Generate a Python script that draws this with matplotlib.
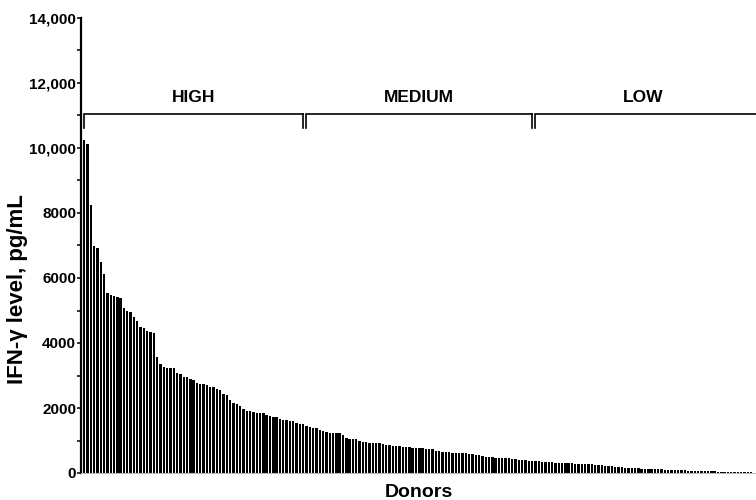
import matplotlib
matplotlib.use("Agg")
import matplotlib.pyplot as plt
import numpy as np

# IFN-gamma level per donor, pg/mL (sorted descending)
ifn_levels = [
    10250, 10120, 8240, 6975, 6930, 6500, 6110, 5550, 5470, 5445, 5425, 5385,
    5090, 4980, 4940, 4800, 4680, 4500, 4475, 4380, 4340, 4310,
    3580, 3355, 3270, 3240, 3220, 3220, 3090, 3040, 2965, 2945, 2905, 2860,
    2780, 2740, 2730, 2720, 2655, 2635, 2575, 2555, 2440, 2400, 2245, 2165,
    2125, 2060, 1960, 1920, 1910, 1890, 1855, 1835, 1835, 1775, 1745, 1735, 1715,
    1662, 1631, 1620, 1610, 1600, 1538, 1518, 1508, 1456, 1405, 1395, 1374,
    1323, 1303, 1272, 1241, 1231, 1220, 1220, 1159, 1067, 1056, 1046, 1046,
    995, 964, 954, 933, 923, 923, 913, 892, 872, 851, 841, 831, 831, 810,
    790, 790, 780, 780, 780, 759, 738, 728, 728, 687, 667, 656, 656, 646,
    626, 615, 615, 605, 605, 585, 574, 564, 544, 533, 503, 492, 482, 472,
    462, 451, 451, 451, 441, 431,
    410, 400, 390, 379, 379, 369, 359, 349, 338, 338, 328, 318, 318, 308,
    308, 297, 297, 287, 287, 277, 277, 267, 267, 256, 256,
    240, 226, 215, 205, 195, 185, 174, 164, 154, 144, 144, 144, 133, 133,
    133, 123, 123, 123, 113, 103, 103, 92, 92, 82, 82, 82, 72, 72, 72, 62,
    62, 62, 51, 51, 51, 41, 41, 41, 31, 31, 31, 31, 21, 21, 21, 21, 10,
]

group_labels = ["HIGH", "MEDIUM", "LOW"]
group_sizes = [67, 69, 66]

y_ticks = [0, 2000, 4000, 6000, 8000, 10000, 12000, 14000]
y_tick_labels = ["0", "2000", "4000", "6000", "8000", "10,000", "12,000", "14,000"]

bracket_level = 11050
bracket_drop = 450
label_level = 11550

plt.rcParams['font.family'] = ['Liberation Sans', 'DejaVu Sans']

fig = plt.figure(figsize=(7.56, 5.0), dpi=100)
ax = fig.add_axes([81 / 756, 27 / 500, 1 - 81 / 756, (473 - 18) / 500])

x = np.arange(len(ifn_levels))
ax.bar(x, ifn_levels, width=0.72, color="#000000", edgecolor="none")

n = len(ifn_levels)
ax.set_xlim(-0.95, n - 0.55)
ax.set_ylim(0, 14000)

ax.set_yticks(y_ticks)
ax.set_yticklabels(y_tick_labels, fontsize=11, fontweight="bold")
ax.set_yticks(np.arange(1000, 14000, 2000), minor=True)
ax.tick_params(axis="y", which="both", direction="out", length=3, width=1.1, pad=0.5)
ax.set_xticks([])

for s in ["top", "right"]:
    ax.spines[s].set_visible(False)
ax.spines["left"].set_linewidth(1.6)
ax.spines["bottom"].set_color("#bbbbbb")
ax.spines["bottom"].set_linewidth(0.8)

ax.set_ylabel("IFN-γ level, pg/mL", fontsize=16, fontweight="bold")
ax.yaxis.set_label_coords((28 - 81) / 675, (473 - 289) / 455)
ax.set_xlabel("Donors", fontsize=14, fontweight="bold", labelpad=8)

# brackets
edges = np.concatenate([[0], np.cumsum(group_sizes)]) - 0.5
gap = 0.42
for i, lab in enumerate(group_labels):
    left = edges[i] + gap if i > 0 else 0.0
    right = edges[i + 1] - gap if i < len(group_labels) - 1 else n + 5
    ax.plot([left, left, right], [bracket_level - bracket_drop, bracket_level, bracket_level],
            color="black", lw=1.2, clip_on=False, solid_joinstyle="miter")
    if i < len(group_labels) - 1:
        ax.plot([right, right], [bracket_level, bracket_level - bracket_drop],
                color="black", lw=1.2, clip_on=False)
    ax.text((edges[i] + edges[i + 1]) / 2, label_level, lab, ha="center", va="center",
            fontsize=12.5, fontweight="bold")

fig.savefig("out.png", dpi=100)
